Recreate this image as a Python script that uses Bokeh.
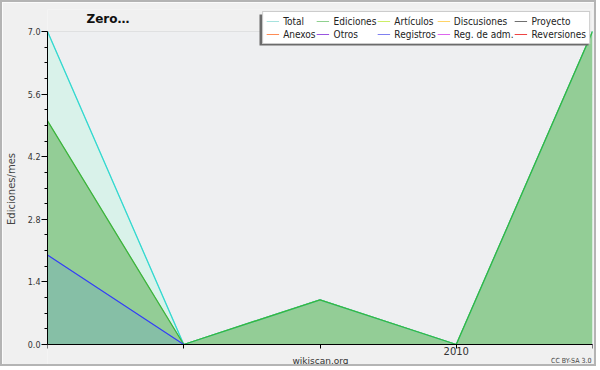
from bokeh.plotting import figure
from bokeh.models import (FixedTicker, PrintfTickFormatter, Legend, LegendItem, Label,
                          Range1d, BoxAnnotation)
from bokeh.embed import file_html
from bokeh.resources import INLINE

x = [0, 1, 2, 3, 4]
x_ticks = [0, 1, 2, 3, 4]
x_tick_labels = {0: "", 1: "", 2: "", 3: "2010", 4: ""}
y_ticks = [0.0, 1.4, 2.8, 4.2, 5.6, 7.0]

total = [7, 0, 1, 0, 7]
ediciones = [5, 0, 1, 0, 7]
registros = [2, 0, 0, 0, 0]
articulos = [0, 0, 0, 0, 0]
discusiones = [0, 0, 0, 0, 0]
proyecto = [0, 0, 0, 0, 0]
anexos = [0, 0, 0, 0, 0]
otros = [0, 0, 0, 0, 0]
reg_adm = [0, 0, 0, 0, 0]
reversiones = [0, 0, 0, 0, 0]

series_labels = ["Total", "Ediciones", "Artículos", "Discusiones", "Proyecto",
                 "Anexos", "Otros", "Registros", "Reg. de adm.", "Reversiones"]
series_values = [total, ediciones, articulos, discusiones, proyecto,
                 anexos, otros, registros, reg_adm, reversiones]
legend_colors = ["#a6e2de", "#8fd08f", "#ccee66", "#ffd466", "#707070",
                 "#ff8c55", "#9955e0", "#8080f0", "#dd66ee", "#ee4444"]

FONT = "DejaVu Sans"
FONT_C = "DejaVu Sans Condensed"

YMIN, YMAX = 0.0, 7.0
p = figure(width=596, height=366, output_backend="svg", toolbar_location=None,
           x_range=Range1d(0, 4), y_range=Range1d(-0.5367, 7.492),
           min_border_left=44, min_border_right=6, min_border_top=7, min_border_bottom=0,
           background_fill_color="#f0f0f0", border_fill_color="#f0f0f0")
p.styles = {"border": "2px solid #b4b4b4"}
p.outline_line_color = None

# plot area background (0..7)
p.add_layout(BoxAnnotation(bottom=YMIN, top=YMAX, fill_color="#eeeff1", fill_alpha=1,
                           line_color=None, level="underlay"))

# areas
p.varea(x=x, y1=0, y2=total, fill_color="#d9f2ea")
p.varea(x=x, y1=0, y2=ediciones, fill_color="#93cd96")
p.varea(x=x, y1=0, y2=registros, fill_color="#86bfa6")

# series lines in their (light) legend colours
legend_rends = [p.line(x, vals, line_color=c, line_width=1)
                for vals, c in zip(series_values, legend_colors)]

# strong outlines of the visible areas drawn on top
p.line(x, total, line_color="#33d9d0", line_width=1.3)
p.line(x, ediciones, line_color="#3cb43c", line_width=1.3)
p.line(x, registros, line_color="#3344ee", line_width=1.1)

# legend shadow
p.add_layout(BoxAnnotation(left=212, right=541, bottom=323, top=354,
                           left_units="screen", right_units="screen",
                           top_units="screen", bottom_units="screen",
                           fill_color="#6b6b6b", fill_alpha=1, line_color=None))

legend = Legend(items=[LegendItem(label=l, renderers=[r]) for l, r in zip(series_labels, legend_rends)],
                orientation="horizontal", ncols=5, location="top_right", margin=2,
                label_text_font=FONT_C, label_text_font_size="10px",
                label_height=12, glyph_height=12, glyph_width=13,
                label_standoff=4, spacing=1, padding=3,
                border_line_color="#999999", background_fill_color="white",
                background_fill_alpha=1.0, label_text_color="#222222")
p.add_layout(legend, "center")

# title
p.add_layout(Label(x=39, y=350, x_units="screen", y_units="screen", text="Zero\u2026",
                   text_font=FONT, text_font_size="12px", text_font_style="bold",
                   text_baseline="middle", text_color="#111111"))

# axes
p.xaxis.fixed_location = 0
p.xaxis.ticker = FixedTicker(ticks=x_ticks)
p.xaxis.major_label_overrides = x_tick_labels
p.xaxis.major_label_text_font = FONT
p.xaxis.major_label_text_font_size = "10px"
p.xaxis.major_label_text_color = "#333333"
p.xaxis.major_label_standoff = -2
p.xaxis.major_tick_out = 4
p.xaxis.major_tick_in = 0
p.xaxis.minor_tick_line_color = None

minor = [round(i * 0.35, 2) for i in range(21) if i % 4 != 0]
p.yaxis.ticker = FixedTicker(ticks=y_ticks, minor_ticks=minor)
p.yaxis.bounds = (YMIN, YMAX)
p.yaxis.formatter = PrintfTickFormatter(format="%.1f")
p.yaxis.axis_label = "Ediciones/mes"
p.yaxis.axis_label_text_font = FONT
p.yaxis.axis_label_text_font_size = "10px"
p.yaxis.axis_label_text_font_style = "normal"
p.yaxis.axis_label_standoff = 8
p.yaxis.major_label_text_font = FONT
p.yaxis.major_label_text_font_size = "8px"
p.yaxis.major_label_text_color = "#333333"
p.yaxis.major_label_standoff = 1
p.yaxis.major_tick_out = 6
p.yaxis.major_tick_in = 0
p.yaxis.minor_tick_out = 3
p.yaxis.minor_tick_in = 0

for ax in (p.xaxis, p.yaxis):
    ax.axis_line_color = "black"
    ax.major_tick_line_color = "black"

p.xgrid.grid_line_color = None
p.ygrid.grid_line_color = "#d0d0d0"
p.ygrid.bounds = (YMIN, YMAX)

p.add_layout(Label(x=273, y=8, x_units="screen", y_units="screen",
                   text="wikiscan.org", text_align="center", text_baseline="middle",
                   text_font=FONT, text_font_size="9px", text_color="#333333"))
p.add_layout(Label(x=544, y=8, x_units="screen", y_units="screen",
                   text="CC BY-SA 3.0", text_align="right", text_baseline="middle",
                   text_font=FONT_C, text_font_size="7px", text_color="#444444"))

open("out.html", "w").write(file_html(p, INLINE))
